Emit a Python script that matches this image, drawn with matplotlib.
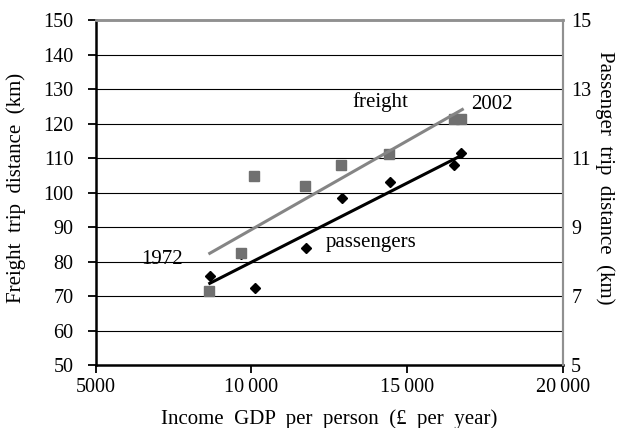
import matplotlib
matplotlib.use('Agg')
import matplotlib.pyplot as plt

# Freight: income GDP per person vs freight trip distance (km)
freight_gdp = [8650, 9650, 10080, 11720, 12890, 14410, 16510, 16720]
freight_km = [71.4, 82.5, 104.8, 101.9, 108.1, 111.2, 121.3, 121.3]

# Passengers: income GDP per person vs passenger trip distance (km)
pass_gdp = [8670, 9650, 10110, 11740, 12910, 14440, 16515, 16730]
pass_km = [7.58, 8.22, 7.24, 8.40, 9.85, 10.30, 10.79, 11.14]

# trend lines (end points)
freight_trend_gdp = [8660, 16770]
freight_trend_km = [82.4, 124.1]
pass_trend_gdp = [8660, 16770]
pass_trend_km = [7.37, 11.09]

x_ticks = [5000, 10000, 15000, 20000]
x_labels = ['5000', '10\u2009000', '15\u2009000', '20\u2009000']
left_ticks = list(range(50, 151, 10))
right_ticks = [5, 7, 9, 11, 13, 15]

plt.rcParams['font.family'] = ['Liberation Serif', 'DejaVu Serif']
plt.rcParams['font.size'] = 14.5

fig = plt.figure(figsize=(6.22, 4.28), dpi=100)
ax = fig.add_axes([0.154, 0.147, 0.751, 0.806])
ax2 = ax.twinx()

ax.set_xlim(5000, 20000)
ax.set_ylim(50, 150)
ax2.set_ylim(5, 15)

for y in left_ticks[1:-1]:
    ax.axhline(y, color='black', linewidth=0.8, zorder=1)

# passengers
ax2.plot(pass_gdp, pass_km, 'D', color='black', markersize=5.5, zorder=3)
ax2.plot(pass_trend_gdp, pass_trend_km, color='black', linewidth=2.2, zorder=3)

# freight (drawn on the right axis scale so it overlays passengers)
ax2.plot(freight_gdp, [v / 10 for v in freight_km], 's', color='#707070',
         markersize=6.5, zorder=4)
ax2.plot(freight_trend_gdp, [v / 10 for v in freight_trend_km], color='#858585',
         linewidth=2.2, zorder=4)

ax2.text(13230, 12.62, 'freight', ha='left', va='center', fontsize=15)
ax2.text(17040, 12.56, '2002', ha='left', va='center', fontsize=15)
ax2.text(12370, 8.54, 'passengers', ha='left', va='center', fontsize=15)
ax2.text(6470, 8.07, '1972', ha='left', va='center', fontsize=15)

ax.set_xticks(x_ticks)
ax.set_xticklabels(x_labels)
ax.set_yticks(left_ticks)
ax2.set_yticks(right_ticks)

ax.tick_params(axis='x', direction='out', length=6, width=1.3, color='black', pad=3)
ax.tick_params(axis='y', direction='out', length=6, width=1.3, color='black', pad=10)
ax2.tick_params(axis='y', length=0, pad=6)

ax.spines['left'].set_linewidth(1.8)
ax.spines['bottom'].set_linewidth(1.8)
for a in (ax, ax2):
    a.spines['top'].set_color('#909090')
    a.spines['top'].set_linewidth(1.8)
    a.spines['right'].set_color('#909090')
    a.spines['right'].set_linewidth(1.5)
ax2.spines['left'].set_visible(False)
ax2.spines['bottom'].set_visible(False)

ax.set_xlabel('Income  GDP  per  person  (\u00a3  per  year)', fontsize=15, labelpad=9)
ax.set_ylabel('Freight  trip  distance  (km)', fontsize=15)
ax2.set_ylabel('Passenger  trip  distance  (km)', fontsize=15, rotation=270)
ax.yaxis.set_label_coords(-0.149, 0.513)
ax2.yaxis.set_label_coords(1.111, 0.542)

plt.savefig('out.png', dpi=100)
